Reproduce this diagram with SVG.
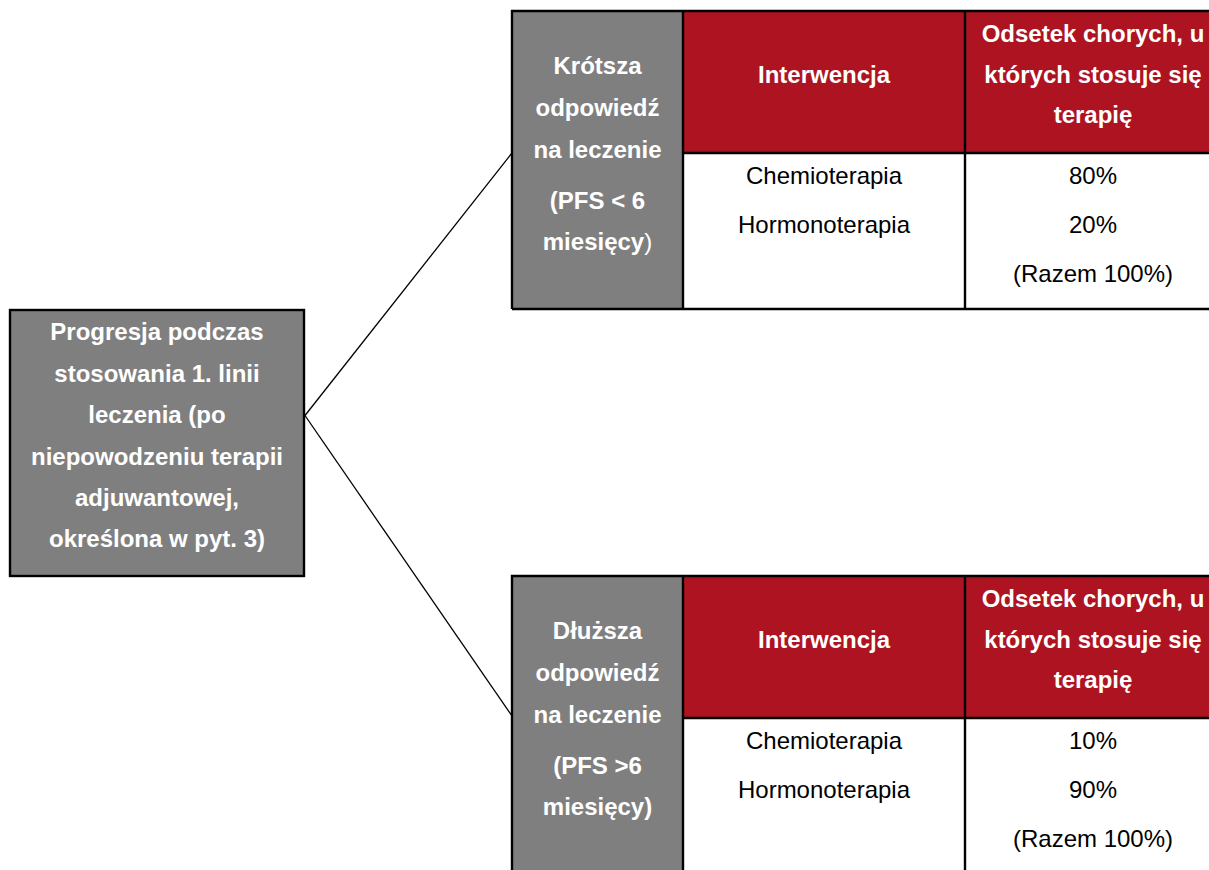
<svg xmlns="http://www.w3.org/2000/svg" width="1209" height="870" viewBox="0 0 1209 870">
<style>
text{font-family:"Liberation Sans",Arial,sans-serif;font-size:24px;text-anchor:middle}
.b{font-weight:bold;fill:#fff}
.r{fill:#000}
.n{font-weight:normal}
.gray{fill:#7f7f7f}
.red{fill:#ad1321}
.bd{stroke:#000;stroke-width:2.4;fill:none}
.conn{stroke:#000;stroke-width:1.3;fill:none}
</style>
<rect width="1209" height="870" fill="#fff"/>
<g id="connectors">
<line class="conn" x1="305" y1="415.5" x2="512" y2="153"/>
<line class="conn" x1="305" y1="415.5" x2="512" y2="716"/>
</g>
<g id="start">
<rect x="10" y="310" width="294" height="266" class="gray"/>
<rect x="10" y="310" width="294" height="266" class="bd"/>
<text class="b" x="157" y="340">Progresja podczas</text>
<text class="b" x="157" y="381.5">stosowania 1. linii</text>
<text class="b" x="157" y="423">leczenia (po</text>
<text class="b" x="157" y="464.5">niepowodzeniu terapii</text>
<text class="b" x="157" y="506">adjuwantowej,</text>
<text class="b" x="157" y="547">określona w pyt. 3)</text>
</g>
<g id="short">
<rect x="512" y="11" width="171" height="298" class="gray"/>
<rect x="683" y="11" width="540" height="142" class="red"/>
<rect x="683" y="153" width="540" height="156" fill="#fff"/>
<path class="bd" d="M512 309V11H1225M512 309H1225M683 11V309M965 11V309M683 153H1225"/>
<text class="b" x="597.5" y="74">Krótsza</text>
<text class="b" x="597.5" y="116">odpowiedź</text>
<text class="b" x="597.5" y="158">na leczenie</text>
<text class="b" x="597.5" y="209">(PFS &lt; 6</text>
<text class="b" x="597.5" y="250">miesięcy<tspan class="n">)</tspan></text>
<text class="b" x="824" y="82.5">Interwencja</text>
<text class="b" x="1093" y="42">Odsetek chorych, u</text>
<text class="b" x="1093" y="82.5">których stosuje się</text>
<text class="b" x="1093" y="123">terapię</text>
<text class="r" x="824" y="184">Chemioterapia</text>
<text class="r" x="824" y="233">Hormonoterapia</text>
<text class="r" x="1093" y="184">80%</text>
<text class="r" x="1093" y="233">20%</text>
<text class="r" x="1093" y="282">(Razem 100%)</text>
</g>
<g id="long">
<rect x="512" y="576" width="171" height="300" class="gray"/>
<rect x="683" y="576" width="540" height="142" class="red"/>
<path class="bd" d="M512 880V576H1225M683 576V880M965 576V880M683 718H1225"/>
<text class="b" x="597.5" y="639">Dłuższa</text>
<text class="b" x="597.5" y="681">odpowiedź</text>
<text class="b" x="597.5" y="723">na leczenie</text>
<text class="b" x="597.5" y="774">(PFS &gt;6</text>
<text class="b" x="597.5" y="815">miesięcy)</text>
<text class="b" x="824" y="647.5">Interwencja</text>
<text class="b" x="1093" y="607">Odsetek chorych, u</text>
<text class="b" x="1093" y="647.5">których stosuje się</text>
<text class="b" x="1093" y="688">terapię</text>
<text class="r" x="824" y="749">Chemioterapia</text>
<text class="r" x="824" y="798">Hormonoterapia</text>
<text class="r" x="1093" y="749">10%</text>
<text class="r" x="1093" y="798">90%</text>
<text class="r" x="1093" y="847">(Razem 100%)</text>
</g>
</svg>
